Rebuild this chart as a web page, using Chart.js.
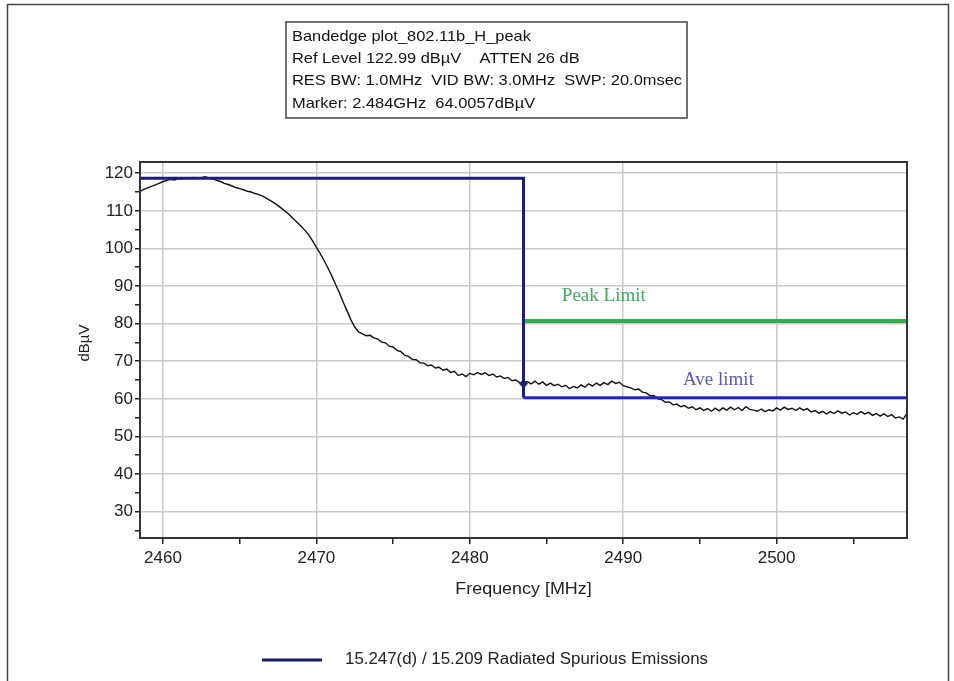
<!DOCTYPE html>
<html><head><meta charset="utf-8">
<script src="https://cdn.jsdelivr.net/npm/chart.js@4.4.1/dist/chart.umd.min.js"></script>
<style>html,body{margin:0;padding:0;background:#fff;} #wrap{width:954px;height:681px;position:relative;}</style>
</head><body><div id="wrap"><canvas id="c" width="954" height="681"></canvas></div>
<script>
// ---------- data ----------
const infoLines = [
  'Bandedge plot_802.11b_H_peak',
  'Ref Level 122.99 dB\u00B5V    ATTEN 26 dB',
  'RES BW: 1.0MHz  VID BW: 3.0MHz  SWP: 20.0msec',
  'Marker: 2.484GHz  64.0057dB\u00B5V'
];
const xTitle = 'Frequency [MHz]';
const yTitle = 'dB\u00B5V';
const legendLabel = '15.247(d) / 15.209 Radiated Spurious Emissions';

const xMin = 2458.5, xMax = 2508.5;
const yMin = 22.99, yMax = 122.99;
const xTickValues = [2460, 2465, 2470, 2475, 2480, 2485, 2490, 2495, 2500, 2505];
const xTickLabels = ['2460', '', '2470', '', '2480', '', '2490', '', '2500', ''];
const yTickValues = [25, 30, 35, 40, 45, 50, 55, 60, 65, 70, 75, 80, 85, 90, 95, 100, 105, 110, 115, 120];
const yTickLabels = ['', '30', '', '40', '', '50', '', '60', '', '70', '', '80', '', '90', '', '100', '', '110', '', '120'];

const traceStartMHz = 2458.5;
const traceStepMHz = 0.25;
const traceLevels = [
  115.2,115.7,116.1,116.5,116.9,117.3,117.8,118.1,118.4,118.2,
  118.6,118.5,118.8,118.6,118.9,118.7,118.8,119.1,118.7,118.5,
  118.1,117.8,117.3,117.0,116.6,116.2,115.9,115.6,115.2,115.0,
  114.6,114.3,113.9,113.3,112.7,112.1,111.4,110.6,109.8,108.9,
  107.9,106.9,105.9,104.8,103.6,102.0,100.3,98.6,96.8,94.8,
  92.7,90.4,88.2,85.7,83.4,81.0,79.1,77.8,77.3,76.8,
  76.9,76.2,75.9,75.1,74.9,74.0,73.8,72.9,72.6,71.6,
  71.3,70.5,70.4,69.6,69.5,68.8,69.0,68.2,68.4,67.6,
  67.9,67.0,67.3,66.2,66.6,65.9,66.8,66.4,67.0,66.5,
  66.9,66.2,66.6,65.8,66.1,65.4,65.7,64.8,65.0,64.3,
  64.0,64.6,64.0,64.7,63.9,64.5,63.6,64.2,63.5,63.9,
  63.2,63.6,62.7,63.3,62.9,63.7,63.1,64.0,63.4,64.2,
  63.6,64.3,63.8,64.7,64.1,64.4,63.5,63.2,62.9,62.4,
  62.6,61.8,61.6,60.8,60.9,60.0,59.8,59.1,59.2,58.4,
  58.6,57.9,58.2,57.5,57.9,57.1,57.6,56.9,57.4,56.7,
  57.5,56.8,57.6,57.0,57.8,57.1,57.7,56.9,57.9,57.2,
  57.0,56.7,57.3,56.6,57.1,56.8,57.6,57.0,57.8,57.2,
  57.5,56.9,57.6,57.0,57.4,56.5,56.9,56.2,56.7,56.0,
  56.6,56.1,56.8,56.2,56.5,55.7,56.3,55.9,56.6,56.0,
  56.4,55.6,56.1,55.4,56.0,55.3,55.8,54.9,55.2,54.6,
  56.1
];

const limitFreqs = [2458.5, 2483.5, 2483.5, 2508.5];
const limitLevels = [118.7, 118.7, 60.3, 60.3];
const peakLimitFreqs = [2483.5, 2508.5];
const peakLimitLevels = [80.7, 80.7];
const markerFreqs = [2483.5];
const markerLevels = [64.0];

const noteTexts = ['Peak Limit', 'Ave limit'];
const noteFreqs = [2486.0, 2493.9];
const noteLevels = [87.3, 65.0];
const noteColors = ['#3fa95e', '#5a5ab6'];

// ---------- build ----------
const tracePts = traceLevels.map((v, i) => ({x: traceStartMHz + i * traceStepMHz, y: v}));
const limitPts = limitFreqs.map((f, i) => ({x: f, y: limitLevels[i]}));
const peakPts = peakLimitFreqs.map((f, i) => ({x: f, y: peakLimitLevels[i]}));
const markerPts = markerFreqs.map((f, i) => ({x: f, y: markerLevels[i]}));

const FONT = '"Liberation Sans", Arial, sans-serif';

const deco = {
  id: 'deco',
  afterDatasetsDraw(chart) {
    const ctx = chart.ctx, a = chart.chartArea;
    const xs = chart.scales.x, ys = chart.scales.y;
    ctx.save();
    ctx.strokeStyle = '#333'; ctx.lineWidth = 2;
    ctx.strokeRect(a.left, a.top, a.right - a.left, a.bottom - a.top);
    ctx.textBaseline = 'middle'; ctx.textAlign = 'left';
    ctx.font = '19px "Liberation Serif", "Times New Roman", serif';
    noteTexts.forEach((t, i) => {
      ctx.fillStyle = noteColors[i];
      ctx.fillText(t, xs.getPixelForValue(noteFreqs[i]), ys.getPixelForValue(noteLevels[i]));
    });
    ctx.restore();
  },
  afterDraw(chart) {
    const ctx = chart.ctx, a = chart.chartArea;
    ctx.save();
    ctx.strokeStyle = '#444'; ctx.lineWidth = 1.5;
    ctx.beginPath();
    ctx.moveTo(7.5, 681); ctx.lineTo(7.5, 4.5); ctx.lineTo(948.5, 4.5); ctx.lineTo(948.5, 681);
    ctx.stroke();
    ctx.strokeRect(286, 22, 401, 96);
    ctx.fillStyle = '#111';
    ctx.font = '15px ' + FONT;
    ctx.textBaseline = 'middle'; ctx.textAlign = 'left';
    const sc = 390 / ctx.measureText(infoLines[2]).width;
    infoLines.forEach((t, i) => {
      ctx.save();
      ctx.translate(292, 36.5 + i * 22.4);
      ctx.scale(sc, 1);
      ctx.fillText(t, 0, 0);
      ctx.restore();
    });
    ctx.fillStyle = '#222';
    ctx.font = '16px ' + FONT;
    ctx.textAlign = 'center';
    ctx.save();
    ctx.translate((a.left + a.right) / 2, 590);
    ctx.scale(1.12, 1);
    ctx.fillText(xTitle, 0, 0);
    ctx.restore();
    ctx.save();
    ctx.translate(85, 343);
    ctx.rotate(-Math.PI / 2);
    ctx.font = '15px ' + FONT;
    ctx.fillText(yTitle, 0, 0);
    ctx.restore();
    ctx.strokeStyle = '#1c1c6e'; ctx.lineWidth = 3;
    ctx.beginPath(); ctx.moveTo(262, 660); ctx.lineTo(322, 660); ctx.stroke();
    ctx.textAlign = 'left';
    ctx.font = '16px ' + FONT;
    ctx.save();
    ctx.translate(345, 660);
    ctx.scale(363 / ctx.measureText(legendLabel).width, 1);
    ctx.fillText(legendLabel, 0, 0);
    ctx.restore();
    ctx.restore();
  }
};

const isMajor = c => c.tick && Math.round(c.tick.value) % 10 === 0;
const gridColor = c => isMajor(c) ? '#cacaca' : 'rgba(0,0,0,0)';

new Chart(document.getElementById('c'), {
  type: 'line',
  data: {
    datasets: [
      {data: tracePts, borderColor: '#111', borderWidth: 1.4, pointRadius: 0, tension: 0, order: 3},
      {data: peakPts, borderColor: '#36ad55', borderWidth: 4, pointRadius: 0, order: 2},
      {data: limitPts, borderColor: '#1c1c80', borderWidth: 3, pointRadius: 0, order: 1,
        segment: {borderColor: s => s.p0DataIndex === 2 ? '#2424c4' : '#1c1c80'}},
      {data: markerPts, showLine: false, pointStyle: 'rectRot', pointRadius: 4,
        pointBackgroundColor: '#1c1c6e', pointBorderColor: '#1c1c6e', order: 0}
    ]
  },
  options: {
    responsive: false, animation: false,
    layout: {padding: {left: 0, top: 162, right: 47, bottom: 0}},
    plugins: {legend: {display: false}, tooltip: {enabled: false}},
    scales: {
      x: {
        type: 'linear', min: xMin, max: xMax,
        afterFit: s => { s.height = 143; },
        afterBuildTicks: s => { s.ticks = xTickValues.map(v => ({value: v})); },
        ticks: {autoSkip: false, maxRotation: 0, color: '#222', font: {family: FONT, size: 17}, padding: 4,
          callback: (v, i) => xTickLabels[i]},
        grid: {color: gridColor, lineWidth: 1.5, drawTicks: true, tickLength: 6,
          tickColor: '#222', tickWidth: 1.5},
        border: {display: true, color: '#333', width: 2}
      },
      y: {
        type: 'linear', min: yMin, max: yMax,
        afterFit: s => { s.width = 140; },
        afterBuildTicks: s => { s.ticks = yTickValues.map(v => ({value: v})); },
        ticks: {autoSkip: false, color: '#222', font: {family: FONT, size: 17}, padding: 2,
          callback: (v, i) => yTickLabels[i]},
        grid: {color: gridColor, lineWidth: 1.5, drawTicks: true, tickLength: 5,
          tickColor: '#222', tickWidth: 1.5},
        border: {display: true, color: '#333', width: 2}
      }
    }
  },
  plugins: [deco]
});
</script></body></html>
